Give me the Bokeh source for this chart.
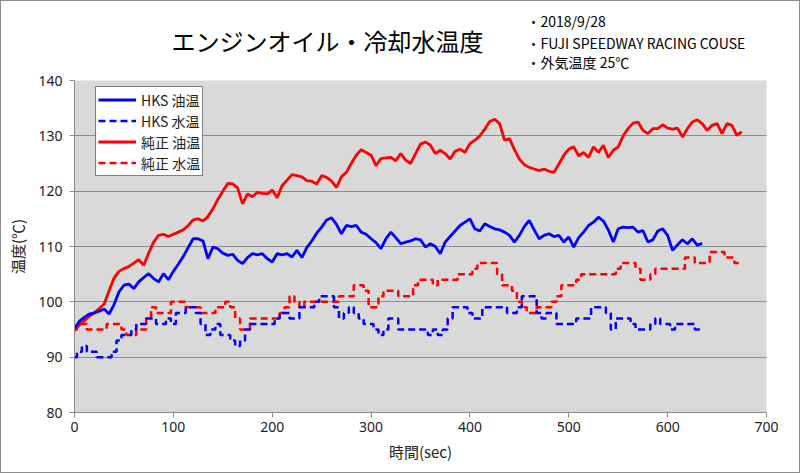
from bokeh.plotting import figure
from bokeh.layouts import column
from bokeh.models import Range1d, FixedTicker, Legend, LegendItem
from bokeh.core.properties import value
from bokeh.embed import file_html
from bokeh.resources import INLINE

# ---- data ----
hks_oil_t = list(range(0, 640, 5))
hks_oil = [95.2, 96.5, 97.2, 97.8, 98.0, 98.3, 98.7, 97.8, 99.5, 101.8,
           103.0, 103.2, 102.4, 103.6, 104.4, 105.1, 104.2, 103.6, 105.1, 104.0,
           105.5, 106.8, 108.2, 109.8, 111.4, 111.4, 111.0, 107.8, 109.9, 109.6,
           108.8, 108.4, 108.6, 107.5, 106.9, 108.0, 108.7, 108.5, 108.7, 107.8,
           107.2, 108.7, 108.5, 108.7, 108.1, 109.3, 108.0, 109.8, 111.0, 112.4,
           113.5, 114.8, 115.2, 114.0, 112.3, 113.8, 113.6, 113.8, 112.6, 112.2,
           111.4, 110.7, 109.6, 111.4, 112.6, 111.6, 110.5, 110.8, 111.0, 111.4,
           111.2, 109.9, 110.5, 110.0, 108.7, 110.8, 111.8, 112.8, 113.8, 114.4,
           115.0, 113.2, 112.8, 114.1, 113.6, 113.2, 113.0, 112.6, 112.0, 110.8,
           112.0, 113.6, 114.7, 113.0, 111.4, 112.0, 112.3, 111.8, 112.0, 110.8,
           111.7, 109.9, 111.6, 112.6, 113.8, 114.4, 115.3, 114.6, 113.0, 110.8,
           113.2, 113.5, 113.4, 113.5, 112.6, 112.9, 110.8, 111.2, 112.8, 113.2,
           112.0, 109.3, 110.3, 111.2, 110.5, 111.4, 110.2, 110.6]

hks_water_t = list(range(0, 640, 5))
hks_water = [90, 91, 92, 91, 91, 90, 90, 90, 91, 93,
             94, 94, 95, 96, 96, 97, 97, 96, 96, 97,
             96, 98, 98, 99, 99, 98, 96, 94, 95, 96,
             94, 94, 93, 92, 93, 95, 96, 96, 96, 96,
             96, 97, 98, 98, 97, 97, 99, 99, 99, 100,
             101, 101, 101, 99, 97, 98, 99, 98, 97, 96,
             96, 95, 94, 95, 97, 97, 95, 95, 95, 95,
             95, 95, 94, 95, 94, 95, 97, 99, 99, 99,
             98, 97, 97, 99, 99, 99, 99, 99, 98, 98,
             99, 101, 101, 101, 98, 97, 98, 98, 96, 96,
             96, 96, 97, 97, 97, 99, 99, 99, 98, 95,
             97, 97, 97, 96, 95, 95, 95, 96, 97, 96,
             96, 95, 96, 96, 96, 96, 95, 95]

std_oil_t = list(range(0, 680, 5))
std_oil = [94.8, 95.8, 96.6, 97.4, 98.0, 98.8, 99.6, 102.0, 104.3, 105.5,
           106.0, 106.4, 107.0, 107.6, 106.6, 108.8, 110.8, 112.0, 112.2, 111.8,
           112.2, 112.6, 113.0, 113.8, 114.8, 115.0, 114.6, 115.4, 116.8, 118.5,
           120.0, 121.4, 121.3, 120.6, 117.7, 119.5, 119.0, 119.8, 119.6, 119.5,
           120.2, 118.8, 121.0, 122.0, 123.0, 122.8, 122.6, 121.9, 121.8, 121.3,
           122.8, 122.5, 121.8, 120.7, 122.6, 123.4, 125.0, 126.5, 127.5, 127.0,
           126.5, 124.6, 125.9, 126.0, 126.1, 125.5, 126.8, 125.6, 125.0, 126.8,
           128.5, 128.9, 128.3, 126.8, 127.4, 126.8, 125.8, 127.2, 127.6, 127.0,
           128.6, 129.2, 130.0, 131.2, 132.6, 133.0, 132.2, 129.2, 129.5, 127.5,
           125.8, 124.8, 124.3, 124.0, 123.7, 124.0, 123.6, 123.4, 124.9, 126.5,
           127.6, 128.0, 126.4, 127.0, 126.1, 128.0, 127.0, 128.3, 126.1, 127.4,
           128.0, 130.0, 131.3, 132.3, 132.5, 131.0, 130.4, 131.3, 131.3, 132.0,
           131.4, 131.2, 131.4, 129.8, 131.3, 132.5, 132.9, 132.2, 131.0, 131.9,
           132.2, 130.4, 132.2, 131.9, 130.1, 130.7]

std_water_t = list(range(0, 680, 5))
std_water = [95, 96, 96, 95, 95, 95, 95, 96, 96, 96,
             95, 94, 94, 95, 95, 97, 99, 98, 98, 98,
             100, 100, 100, 99, 99, 99, 98, 98, 98, 99,
             99, 100, 99, 97, 95, 95, 97, 97, 97, 97,
             97, 97, 98, 99, 101, 100, 99, 100, 100, 100,
             100, 100, 100, 100, 101, 101, 101, 103, 103, 102,
             99, 99, 101, 102, 102, 102, 101, 101, 101, 103,
             104, 104, 104, 103, 104, 104, 104, 104, 105, 105,
             105, 106, 107, 107, 107, 107, 105, 103, 103, 102,
             100, 99, 98, 98, 99, 99, 99, 100, 101, 103,
             103, 103, 104, 105, 105, 105, 105, 105, 105, 105,
             106, 107, 107, 107, 106, 104, 104, 105, 106, 106,
             106, 106, 106, 106, 108, 108, 107, 107, 107, 109,
             109, 109, 108, 108, 107, 107]

series_names = ["HKS 油温", "HKS 水温", "純正 油温", "純正 水温"]
title_text = "エンジンオイル・冷却水温度"
notes = ["・2018/9/28", "・FUJI SPEEDWAY  RACING COUSE", "・外気温度  25℃"]
x_ticks = [0, 100, 200, 300, 400, 500, 600, 700]
y_ticks = [80, 90, 100, 110, 120, 130, 140]

BLUE = "#0000ff"
RED = "#ff0000"
GRID = "#8c8c8c"
JP = "Noto Sans CJK JP"

# ---- header strip (title + notes); its frame is aligned with the chart's
# frame by the column layout, so the x range spans the frame's pixel columns
head = figure(width=798, height=71, output_backend="svg", toolbar_location=None,
              x_range=Range1d(74, 766), y_range=Range1d(72, 1),
              min_border=0)
head.axis.visible = False
head.grid.visible = False
head.outline_line_color = None
head.background_fill_color = "white"
head.border_fill_color = "white"
head.text(x=[171], y=[40], text=[title_text], text_font=value(JP),
          text_font_size="24px", text_align="left", text_baseline="middle",
          text_color="black")
head.text(x=[526, 526, 526], y=[20, 42, 61], text=notes, text_font=value(JP),
          text_font_size="14px", text_align="left", text_baseline="middle",
          text_color="black")

# ---- main chart ----
p = figure(width=798, height=400, output_backend="svg", toolbar_location=None,
           x_range=Range1d(0, 700), y_range=Range1d(80, 140),
           min_border_left=73, min_border_right=33, min_border_top=8,
           min_border_bottom=60)
p.background_fill_color = "#d9d9d9"
p.border_fill_color = "white"
p.outline_line_color = None

p.xgrid.grid_line_color = None
p.ygrid.grid_line_color = GRID
p.ygrid.grid_line_width = 1
p.ygrid.ticker = FixedTicker(ticks=y_ticks)

for ax in (p.xaxis[0], p.yaxis[0]):
    ax.axis_line_color = GRID
    ax.major_tick_line_color = GRID
    ax.minor_tick_line_color = None
    ax.major_tick_in = 0
    ax.major_tick_out = 5
    ax.major_label_text_font = "Noto Sans"
    ax.major_label_text_font_size = "14px"
    ax.major_label_text_color = "#222222"
    ax.axis_label_text_font = JP
    ax.axis_label_text_font_style = "normal"
    ax.axis_label_text_color = "#222222"

p.xaxis.ticker = FixedTicker(ticks=x_ticks)
p.yaxis.ticker = FixedTicker(ticks=y_ticks)
p.xaxis.axis_label = "時間(sec)"
p.yaxis.axis_label = "温度(℃)"
p.xaxis.axis_label_text_font_size = "15px"
p.yaxis.axis_label_text_font_size = "15px"
p.xaxis.major_label_standoff = 4
p.yaxis.major_label_standoff = 7
p.xaxis.axis_label_standoff = 6
p.yaxis.axis_label_standoff = 7

r_std_water = p.step(std_water_t, std_water, mode="center", line_color=RED,
                     line_width=2.5, line_dash="7 4")
r_hks_water = p.step(hks_water_t, hks_water, mode="center", line_color=BLUE,
                     line_width=2.5, line_dash="7 4")
r_std_oil = p.line(std_oil_t, std_oil, line_color=RED, line_width=2.8)
r_hks_oil = p.line(hks_oil_t, hks_oil, line_color=BLUE, line_width=2.8)

legend = Legend(items=[
    LegendItem(label=series_names[0], renderers=[r_hks_oil]),
    LegendItem(label=series_names[1], renderers=[r_hks_water]),
    LegendItem(label=series_names[2], renderers=[r_std_oil]),
    LegendItem(label=series_names[3], renderers=[r_std_water]),
], location=(21, 236))
legend.background_fill_color = "white"
legend.background_fill_alpha = 1
legend.border_line_color = "black"
legend.border_line_width = 1
legend.padding = 2
legend.spacing = 0
legend.margin = 0
legend.label_height = 21
legend.glyph_height = 21
legend.glyph_width = 38
legend.label_standoff = 5
legend.label_text_font = JP
legend.label_text_font_size = "14px"
legend.label_text_color = "#222222"
p.add_layout(legend)

layout = column(head, p, spacing=0,
                styles={"border": "1px solid #8c8c8c"})

open("out.html", "w").write(file_html(layout, INLINE))
